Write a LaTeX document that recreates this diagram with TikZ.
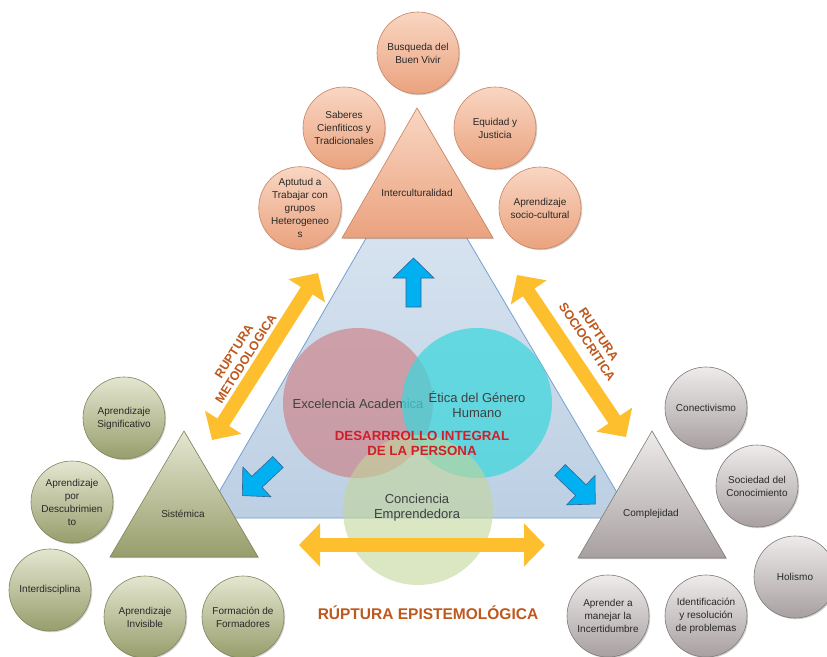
\documentclass[tikz,border=0pt]{standalone}
\usepackage{fontspec}
\setmainfont{Liberation Sans}
\usetikzlibrary{shadows,arrows.meta}
\definecolor{oTop}{RGB}{249,214,194}
\definecolor{oBot}{RGB}{234,162,126}
\definecolor{oBd}{RGB}{200,130,98}
\definecolor{gTop}{RGB}{228,231,208}
\definecolor{gBot}{RGB}{152,157,108}
\definecolor{gBd}{RGB}{128,133,92}
\definecolor{sTop}{RGB}{238,235,235}
\definecolor{sBot}{RGB}{168,160,160}
\definecolor{sBd}{RGB}{128,122,122}
\definecolor{bTop}{RGB}{222,232,243}
\definecolor{bBot}{RGB}{188,207,227}
\definecolor{bBd}{RGB}{118,160,205}
\definecolor{vRed}{RGB}{205,120,125}
\definecolor{vCyan}{RGB}{60,215,220}
\definecolor{vGreen}{RGB}{195,214,155}
\definecolor{aBlue}{RGB}{0,176,240}
\definecolor{aBlueD}{RGB}{50,100,150}
\definecolor{yel}{RGB}{253,191,45}
\definecolor{rupt}{RGB}{190,88,28}
\definecolor{dred}{RGB}{210,30,40}
\definecolor{txt}{RGB}{40,40,40}
\begin{document}
\begin{tikzpicture}[x=1pt,y=-1pt,
  circ/.style={circle, minimum size=82pt, inner sep=0pt, line width=0.6pt, align=center,
    text=txt, font=\fontsize{10}{13}\selectfont,
    drop shadow={shadow xshift=1.2pt, shadow yshift=-1.2pt, opacity=0.3, fill=black!60}},
  oc/.style={circ, top color=oTop, bottom color=oBot, draw=oBd},
  gc/.style={circ, top color=gTop, bottom color=gBot, draw=gBd},
  sc/.style={circ, top color=sTop, bottom color=sBot, draw=sBd},
  tri/.style={line width=0.6pt, drop shadow={shadow xshift=1.2pt, shadow yshift=-1.2pt, opacity=0.3, fill=black!60}},
  trilabel/.style={text=txt, font=\fontsize{10}{13}\selectfont},
  venn/.style={circle, minimum size=150pt, inner sep=0pt},
  venntext/.style={text=black!75, align=center, font=\fontsize{13}{15}\selectfont},
  rupture/.style={text=rupt, align=center, font=\bfseries\fontsize{12.5}{14}\selectfont},
  yarrow/.style={draw=yel, line width=14pt, {Triangle[width=42pt,length=21pt]}-{Triangle[width=42pt,length=21pt]}},
  bluearr/.pic={\path[fill=aBlue, draw=aBlueD, line width=0.6pt] (0,-7.5) -- (29,-7.5) -- (29,-20.5) -- (49,0) -- (29,20.5) -- (29,7.5) -- (0,7.5) -- cycle;}
]
\useasboundingbox (0,0) rectangle (827,656);
\clip (0,0) rectangle (827,656);
\fill[white] (0,0) rectangle (827,656);

% big blue triangle
\coordinate (BA) at (416,152);
\coordinate (BR) at (632,518);
\coordinate (BL) at (204,518);
\path[draw=bBd, line width=0.8pt, top color=bTop, bottom color=bBot] (BA) -- (BR) -- (BL) -- cycle;

% venn
\node[venn, fill=vRed, fill opacity=0.6] (vr) at (358,403) {};
\node[venntext] (tex) at (358,404) {Excelencia Academica};
\node[venn, fill=vCyan, fill opacity=0.72] (vc) at (477,403) {};
\node[venntext] (tet) at (477,404) {Ética del Género\\Humano};
\node[venn, fill=vGreen, fill opacity=0.6] (vg) at (418,510) {};
\node[venntext] (tco) at (417,508) {Conciencia\\Emprendedora};
\node[text=dred, align=center, font=\bfseries\fontsize{13.3}{15}\selectfont] (dip) at (422,443) {DESARRROLLO INTEGRAL\\DE LA PERSONA};

% blue arrows
\pic[rotate=90] at (413.5,307) {bluearr};
\pic[rotate=223.3] at (278,462) {bluearr};
\pic[rotate=-44] at (560,470) {bluearr};

% yellow double arrows
\coordinate (ml1) at (212,440); \coordinate (ml2) at (318,273);
\coordinate (mr1) at (517,275); \coordinate (mr2) at (626,437);
\coordinate (mb1) at (299,545); \coordinate (mb2) at (545,545);
\draw[yarrow] (ml1) -- (ml2);
\draw[yarrow] (mr1) -- (mr2);
\draw[yarrow] (mb1) -- (mb2);

\node[rupture, rotate=57.6] (rm) at (240,355) {RUPTURA\\METODOLOGICA};
\node[rupture, rotate=-56.3] (rs) at (593,338) {RUPTURA\\SOCIOCRITICA};
\node[text=rupt, font=\bfseries\fontsize{15.5}{18}\selectfont] (re) at (428,613) {RÚPTURA EPISTEMOLÓGICA};

% Interculturalidad
\path[tri, draw=oBd, top color=oTop, bottom color=oBot] (417,108) -- (493,238) -- (342,238) -- cycle;
\node[trilabel] (tI) at (417,193) {Interculturalidad};
\node[oc] (o1) at (418,53) {Busqueda del\\Buen Vivir};
\node[oc] (o2) at (344,128) {Saberes\\Cienfiticos y\\Tradicionales};
\node[oc] (o3) at (495,128) {Equidad y\\Justicia};
\node[oc] (o4) at (300,208) {Aptutud a\\Trabajar con\\grupos\\Heterogeneo\\s};
\node[oc] (o5) at (540,208) {Aprendizaje\\socio-cultural};

% Sistemica
\path[tri, draw=gBd, top color=gTop, bottom color=gBot] (184,431) -- (258,557) -- (110,557) -- cycle;
\node[trilabel] (tS) at (183,514) {Sistémica};
\node[gc] (g1) at (124,418) {Aprendizaje\\Significativo};
\node[gc] (g2) at (72,502) {Aprendizaje\\por\\Descubrimien\\to};
\node[gc] (g3) at (50,590) {Interdisciplina};
\node[gc] (g4) at (145,617) {Aprendizaje\\Invisible};
\node[gc] (g5) at (243,617) {Formación de\\Formadores};

% Complejidad
\path[tri, draw=sBd, top color=sTop, bottom color=sBot] (652,431) -- (726,558) -- (578,558) -- cycle;
\node[trilabel] (tC) at (651,514) {Complejidad};
\node[sc] (s1) at (706,408) {Conectivismo};
\node[sc] (s2) at (757,486) {Sociedad del\\Conocimiento};
\node[sc] (s3) at (795,577) {Holismo};
\node[sc] (s4) at (608,616) {Aprender a\\manejar la\\Incertidumbre};
\node[sc] (s5) at (706,616) {Identificación\\y resolución\\de problemas};
\end{tikzpicture}
\end{document}
